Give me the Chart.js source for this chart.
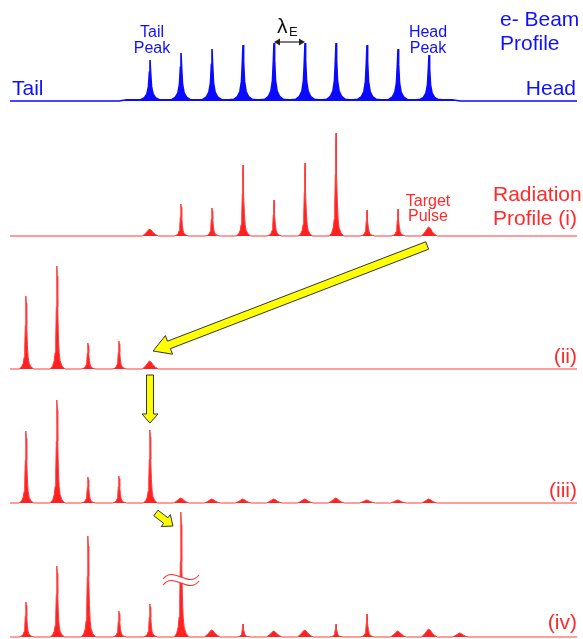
<!DOCTYPE html>
<html>
<head>
<meta charset="utf-8">
<script src="https://cdn.jsdelivr.net/npm/chart.js@4.4.1/dist/chart.umd.min.js"></script>
<style>
  html, body { margin: 0; padding: 0; background: #fff; }
  body { width: 583px; height: 639px; position: relative; overflow: hidden;
         font-family: "Liberation Sans", Arial, Helvetica, sans-serif; }
  #wrap { position: absolute; left: 10px; top: 0; width: 567px; height: 639px; }
  .lbl { position: absolute; white-space: nowrap; line-height: 1; }
  .big { font-size: 21px; }
  .small { font-size: 16px; }
  .blue { color: #1010ff; }
  .red { color: #ff2a2a; }
  .mid { transform: translateX(-50%); }
</style>
</head>
<body>
<div id="wrap"><canvas id="pulses"></canvas></div>

<div class="lbl big blue" style="left:500px; top:8px;">e- Beam</div>
<div class="lbl big blue" style="left:500px; top:32px;">Profile</div>
<div class="lbl big blue" style="left:12px; top:77px;">Tail</div>
<div class="lbl big blue" style="right:7px; top:77px;">Head</div>
<div class="lbl small blue mid" style="left:152px; top:24px;">Tail</div>
<div class="lbl small blue mid" style="left:152px; top:40px;">Peak</div>
<div class="lbl small blue mid" style="left:428px; top:24px;">Head</div>
<div class="lbl small blue mid" style="left:428px; top:40px;">Peak</div>
<div class="lbl" style="left:277px; top:15px; font-size:21px; color:#111;">&lambda;</div>
<div class="lbl" style="left:289px; top:25px; font-size:13px; color:#111;">E</div>

<div class="lbl small red mid" style="left:428px; top:193px;">Target</div>
<div class="lbl small red mid" style="left:428px; top:208px;">Pulse</div>
<div class="lbl big red" style="left:493px; top:183px;">Radiation</div>
<div class="lbl big red" style="left:493px; top:207px;">Profile (i)</div>
<div class="lbl big red" style="right:6px; top:345px;">(ii)</div>
<div class="lbl big red" style="right:6px; top:479px;">(iii)</div>
<div class="lbl big red" style="right:6px; top:611px;">(iv)</div>

<script>
// positions along the beam are in units of the bunch spacing (lambda_E)
const beamSlots = [4, 5, 6, 7, 8, 9, 10, 11, 12, 13];
const beamHeights = [41, 48, 52, 56, 58, 58, 58, 56, 52, 46];

const rad1Slots = [4, 5, 6, 7, 8, 9, 10, 11, 12, 13];
const rad1 = [7, 32, 28, 71, 36, 73, 103, 26, 27, 9];

const rad2Slots = [0, 1, 2, 3, 4];
const rad2 = [73, 103, 26, 28, 8];

const rad3Slots = [0, 1, 2, 3, 4, 5, 6, 7, 8, 9, 10, 11, 12, 13];
const rad3 = [72, 103, 26, 27, 73, 5, 4, 4, 4, 4, 5, 3, 3, 4];

const rad4Slots = [0, 1, 2, 3, 4, 5, 6, 7, 8, 9, 10, 11, 12, 13, 14];
const rad4 = [35, 71, 101, 26, 33, 125, 7, 13, 6, 7, 13, 23, 6, 8, 4];

const X_MIN = -0.516, X_MAX = 17.774;
const H = 639;

// peak outlines: [offset in slots, fraction of the peak height]
const beamShape = [[-0.45,0],[-0.3,0.03],[-0.18,0.08],[-0.1,0.17],[-0.05,0.35],[-0.02,0.7],[0,1],
                   [0.02,0.7],[0.05,0.35],[0.1,0.17],[0.18,0.08],[0.3,0.03],[0.45,0]];
const sharpShape = [[-0.22,0],[-0.14,0.03],[-0.09,0.08],[-0.06,0.16],[-0.04,0.3],[-0.022,0.6],[-0.01,0.9],[0,1],
                    [0.01,0.9],[0.024,0.6],[0.045,0.32],[0.07,0.16],[0.1,0.08],[0.16,0.03],[0.25,0]];
const humpShape = [[-0.25,0],[-0.16,0.3],[-0.08,0.7],[-0.02,1],[0.04,0.85],[0.1,0.5],[0.18,0.2],[0.27,0]];

function profile(slotList, heights, floor) {
    const pts = [{x: X_MIN, y: 0}];
    if (floor) {
        pts.push({x: slotList[0] - 1, y: 0});
        pts.push({x: slotList[0] - 0.75, y: floor});
    }
    slotList.forEach((s, i) => {
        const h = heights[i];
        const shape = floor ? beamShape : (h < 10 ? humpShape : sharpShape);
        shape.forEach(([dx, r]) => pts.push({x: s + dx, y: Math.max(h * r, floor || 0)}));
    });
    if (floor) {
        const last = slotList[slotList.length - 1];
        pts.push({x: last + 0.75, y: floor});
        pts.push({x: last + 1, y: 0});
    }
    pts.push({x: X_MAX, y: 0});
    return pts;
}

// each panel gets its own hidden y axis, 1 unit = 1 px, baseline at basePx
function panelAxis(basePx) {
    return {display: false, min: basePx - H, max: basePx};
}

function line(data, axis, stroke, fill, width) {
    return {
        data: data, yAxisID: axis,
        borderColor: stroke, backgroundColor: fill, borderWidth: width,
        fill: 'origin', pointRadius: 0, tension: 0
    };
}

function arrow(ctx, x0, y0, x1, y1, shaft, head, headLen) {
    const len = Math.hypot(x1 - x0, y1 - y0);
    const ux = (x1 - x0) / len, uy = (y1 - y0) / len;
    const px = -uy, py = ux;
    const nx = x1 - ux * headLen, ny = y1 - uy * headLen;
    const s = shaft / 2, h = head / 2;
    ctx.beginPath();
    ctx.moveTo(x0 + px * s, y0 + py * s);
    ctx.lineTo(nx + px * s, ny + py * s);
    ctx.lineTo(nx + px * h, ny + py * h);
    ctx.lineTo(x1, y1);
    ctx.lineTo(nx - px * h, ny - py * h);
    ctx.lineTo(nx - px * s, ny - py * s);
    ctx.lineTo(x0 - px * s, y0 - py * s);
    ctx.closePath();
    ctx.fillStyle = '#ffff00';
    ctx.fill();
    ctx.lineWidth = 1;
    ctx.strokeStyle = '#333';
    ctx.stroke();
}

function tilde(ctx, cx, cy, w, back) {
    const L = cx - w / 2, R = cx + w / 2;
    if (!back) {
        ctx.moveTo(L, cy + 2);
        ctx.bezierCurveTo(L + w * 0.3, cy - 12, R - w * 0.3, cy + 12, R, cy - 2);
    } else {
        ctx.lineTo(R, cy - 2);
        ctx.bezierCurveTo(R - w * 0.3, cy + 12, L + w * 0.3, cy - 12, L, cy + 2);
    }
}

const overlay = {
    id: 'overlay',
    afterDatasetsDraw(chart) {
        const {ctx, scales} = chart;
        const X = v => scales.x.getPixelForValue(v);
        ctx.save();

        // lambda_E double arrow between two bunches
        const ly = scales.yBeam.getPixelForValue(59);
        const a = X(8), b = X(9);
        ctx.strokeStyle = '#222';
        ctx.fillStyle = '#222';
        ctx.lineWidth = 1.2;
        ctx.beginPath();
        ctx.moveTo(a + 2, ly); ctx.lineTo(b - 2, ly);
        ctx.stroke();
        [[a, 1], [b, -1]].forEach(([xx, d]) => {
            ctx.beginPath();
            ctx.moveTo(xx, ly);
            ctx.lineTo(xx + d * 6, ly - 3.5);
            ctx.lineTo(xx + d * 6, ly + 3.5);
            ctx.closePath();
            ctx.fill();
        });

        // yellow arrows
        arrow(ctx, X(12.94), scales.y1.getPixelForValue(-9.5), X(4.1), scales.y2.getPixelForValue(18), 8, 20, 17);
        arrow(ctx, X(4.0), scales.y2.getPixelForValue(-6), X(4.0), scales.y3.getPixelForValue(80), 7, 16, 9);
        arrow(ctx, X(4.19), scales.y4.getPixelForValue(124), X(4.74), scales.y4.getPixelForValue(111), 7, 15, 9);

        // break mark on the clipped peak
        const cx = X(5), top = scales.y4.getPixelForValue(60), bot = scales.y4.getPixelForValue(54);
        ctx.beginPath();
        tilde(ctx, cx, top, 36, false);
        tilde(ctx, cx, bot, 36, true);
        ctx.closePath();
        ctx.fillStyle = '#fff';
        ctx.fill();
        ctx.strokeStyle = '#ff2a2a';
        ctx.lineWidth = 1.1;
        ctx.beginPath(); tilde(ctx, cx, top, 36, false); ctx.stroke();
        ctx.beginPath(); tilde(ctx, cx, bot, 36, false); ctx.stroke();
        ctx.restore();
    }
};

const red = '#ff2020';
const redEdge = '#ff3a3a';
new Chart(document.getElementById('pulses').getContext('2d'), {
    type: 'line',
    data: {
        datasets: [
            line(profile(beamSlots, beamHeights, 1.2), 'yBeam', '#0a0aff', '#0a0aff', 1.6),
            line(profile(rad1Slots, rad1), 'y1', redEdge, red, 1),
            line(profile(rad2Slots, rad2), 'y2', redEdge, red, 1),
            line(profile(rad3Slots, rad3), 'y3', redEdge, red, 1),
            line(profile(rad4Slots, rad4), 'y4', redEdge, red, 1)
        ]
    },
    options: {
        responsive: true,
        maintainAspectRatio: false,
        animation: false,
        layout: {padding: 0},
        plugins: {legend: {display: false}, tooltip: {enabled: false}},
        scales: {
            x: {type: 'linear', display: false, min: X_MIN, max: X_MAX},
            yBeam: panelAxis(101),
            y1: panelAxis(236),
            y2: panelAxis(369),
            y3: panelAxis(503),
            y4: panelAxis(637)
        }
    },
    plugins: [overlay]
});
</script>
</body>
</html>
